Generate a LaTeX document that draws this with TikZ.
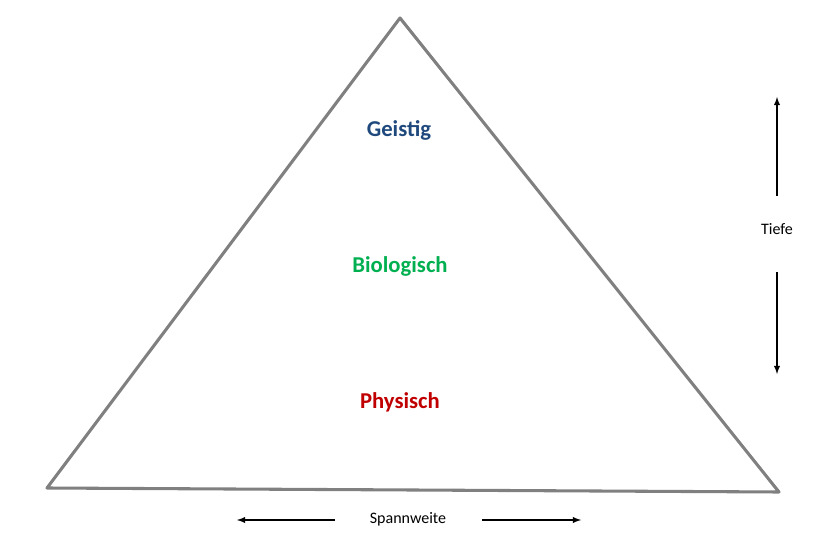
\documentclass[tikz,border=0pt]{standalone}
\usepackage{fontspec}
\setmainfont{Carlito}
\definecolor{gblue}{RGB}{31,73,125}
\definecolor{ggreen}{RGB}{0,176,80}
\definecolor{gred}{RGB}{192,0,0}
\definecolor{tri}{RGB}{128,128,128}
\begin{document}
\begin{tikzpicture}[x=0.75pt,y=-0.75pt,
  lvl/.style={font=\bfseries\fontsize{17}{20}\selectfont},
  lab/.style={font=\fontsize{12}{14}\selectfont},
  arr/.style={-latex,line width=1.1pt}]
\useasboundingbox (0,0) rectangle (821,545);
\coordinate (A) at (400,18);
\coordinate (B) at (47,488);
\coordinate (C) at (779,492);
\draw[tri,line width=2.3pt,line join=round] (A) -- (B) -- (C) -- cycle;
\node[lvl,text=gblue] (g) at (399,130) {Geistig};
\node[lvl,text=ggreen] (b) at (400,266) {Biologisch};
\node[lvl,text=gred] (p) at (400,402) {Physisch};
\node[lab] (t) at (777,229) {Tiefe};
\node[lab] (s) at (408,519) {Spannweite};
\coordinate (tu) at (777,97);
\coordinate (td) at (777,374);
\coordinate (sl) at (237,520);
\coordinate (sr) at (581,520);
\draw[arr] (777,196) -- (tu);
\draw[arr] (777,272) -- (td);
\draw[arr] (335,520) -- (sl);
\draw[arr] (482,520) -- (sr);
\end{tikzpicture}
\end{document}
